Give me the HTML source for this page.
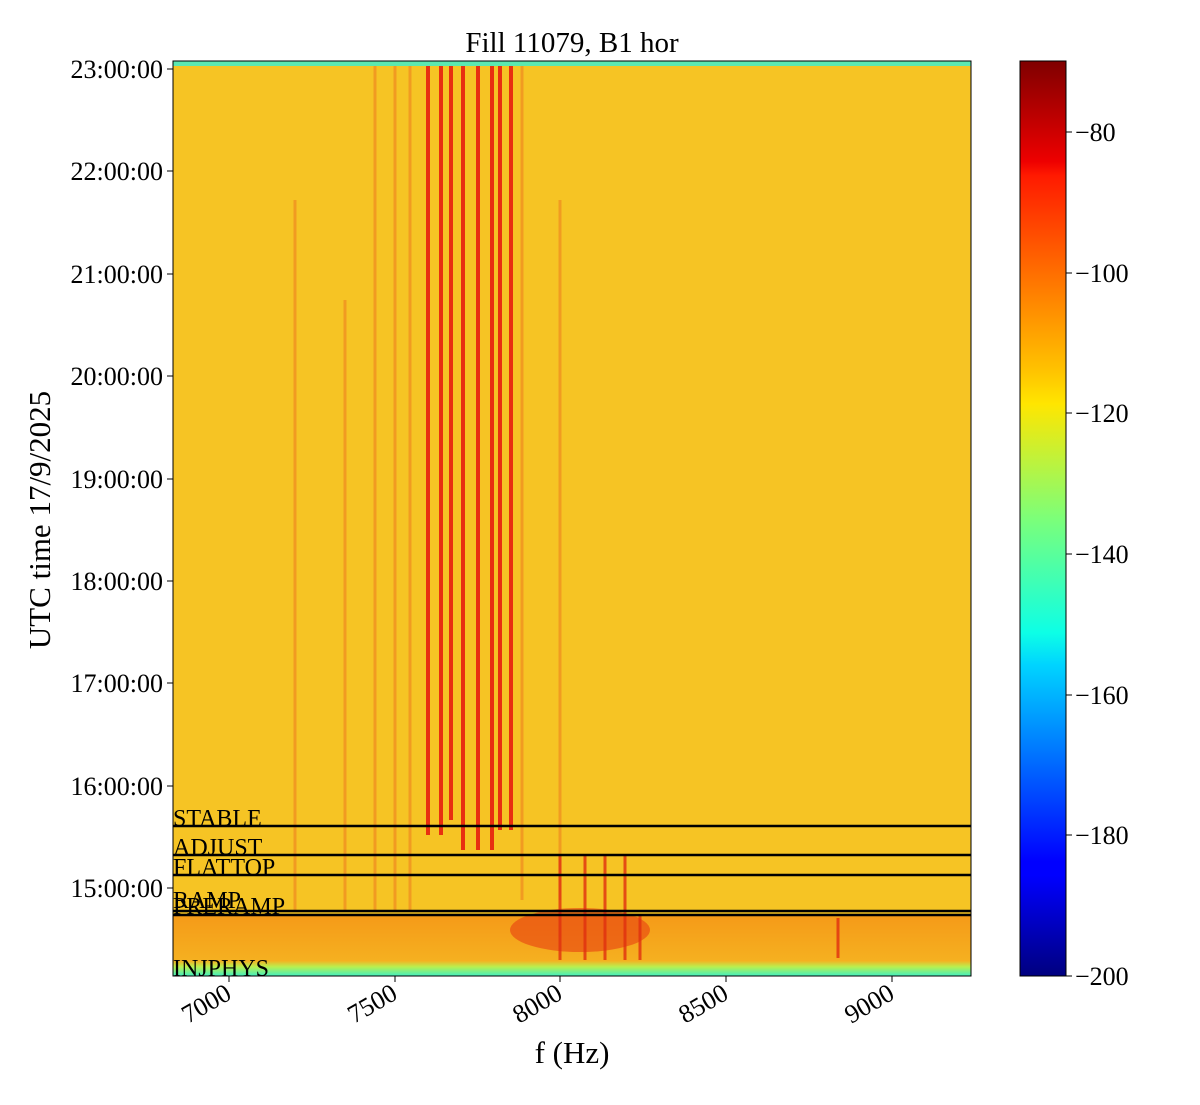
<!DOCTYPE html>
<html><head><meta charset="utf-8"><style>
body{margin:0;background:#fff;}
svg text{font-family:"Liberation Serif",serif;fill:#000;}
</style></head><body>
<svg width="1200" height="1100" xmlns="http://www.w3.org/2000/svg">
<defs>
<linearGradient id="jet" x1="0" y1="1" x2="0" y2="0">
<stop offset="0" stop-color="#00007f"/>
<stop offset="0.11" stop-color="#0000ff"/>
<stop offset="0.125" stop-color="#0000ff"/>
<stop offset="0.34" stop-color="#00d4ff"/>
<stop offset="0.375" stop-color="#0dffe6"/>
<stop offset="0.5" stop-color="#7cff79"/>
<stop offset="0.625" stop-color="#ffe600"/>
<stop offset="0.66" stop-color="#ffc400"/>
<stop offset="0.875" stop-color="#ff1a00"/>
<stop offset="0.89" stop-color="#ee0000"/>
<stop offset="1" stop-color="#7f0000"/>
</linearGradient>
<linearGradient id="bot" x1="0" y1="0" x2="0" y2="1">
<stop offset="0" stop-color="#f59a18"/>
<stop offset="0.75" stop-color="#f5b020"/>
<stop offset="0.85" stop-color="#b8f050"/>
<stop offset="1" stop-color="#40f0c0"/>
</linearGradient>
</defs>
<text x="572" y="52" font-size="29" text-anchor="middle">Fill 11079, B1 hor</text>
<rect x="173" y="61" width="798" height="915" fill="#f6c424"/>
<rect x="173" y="61" width="798" height="5" fill="#5ce8b0"/>
<g stroke="#f08a20" stroke-width="3" opacity="0.7">
<line x1="295" y1="200" x2="295" y2="910"/>
<line x1="375" y1="66" x2="375" y2="910"/>
<line x1="395" y1="66" x2="395" y2="910"/>
<line x1="410" y1="66" x2="410" y2="910"/>
<line x1="522" y1="66" x2="522" y2="900"/>
<line x1="560" y1="200" x2="560" y2="900"/>
<line x1="345" y1="300" x2="345" y2="910"/>
</g>
<g stroke="#e83010" stroke-width="4">
<line x1="428" y1="66" x2="428" y2="835"/>
<line x1="441" y1="66" x2="441" y2="835"/>
<line x1="451" y1="66" x2="451" y2="820"/>
<line x1="463" y1="66" x2="463" y2="850"/>
<line x1="478" y1="66" x2="478" y2="850"/>
<line x1="492" y1="66" x2="492" y2="850"/>
<line x1="500" y1="66" x2="500" y2="830"/>
<line x1="511" y1="66" x2="511" y2="830"/>
</g>
<rect x="173" y="915" width="798" height="61" fill="url(#bot)"/>
<ellipse cx="580" cy="930" rx="70" ry="22" fill="#e84010" opacity="0.6"/>
<g stroke="#e03010" stroke-width="3" opacity="0.8">
<line x1="560" y1="855" x2="560" y2="960"/><line x1="585" y1="855" x2="585" y2="960"/>
<line x1="605" y1="855" x2="605" y2="960"/><line x1="640" y1="915" x2="640" y2="960"/>
<line x1="625" y1="855" x2="625" y2="960"/><line x1="838" y1="918" x2="838" y2="958"/>
</g>
<g stroke="#000" stroke-width="2.5">
<line x1="173" y1="826" x2="971" y2="826"/>
<line x1="173" y1="855" x2="971" y2="855"/>
<line x1="173" y1="875" x2="971" y2="875"/>
<line x1="173" y1="911" x2="971" y2="911"/>
<line x1="173" y1="915" x2="971" y2="915"/>
</g>
<g font-size="24">
<text x="173" y="826">STABLE</text>
<text x="173" y="855">ADJUST</text>
<text x="173" y="875">FLATTOP</text>
<text x="173" y="908">RAMP</text>
<text x="173" y="914">PRERAMP</text>
<text x="173" y="976">INJPHYS</text>
</g>
<rect x="173" y="61" width="798" height="915" fill="none" stroke="#000" stroke-width="1"/>
<g stroke="#000" stroke-width="1">
<line x1="167" y1="69" x2="173" y2="69"/><line x1="167" y1="171" x2="173" y2="171"/>
<line x1="167" y1="274" x2="173" y2="274"/><line x1="167" y1="376" x2="173" y2="376"/>
<line x1="167" y1="479" x2="173" y2="479"/><line x1="167" y1="581" x2="173" y2="581"/>
<line x1="167" y1="683" x2="173" y2="683"/><line x1="167" y1="786" x2="173" y2="786"/>
<line x1="167" y1="888" x2="173" y2="888"/>
<line x1="229" y1="976" x2="229" y2="982"/><line x1="395" y1="976" x2="395" y2="982"/>
<line x1="560" y1="976" x2="560" y2="982"/><line x1="726" y1="976" x2="726" y2="982"/>
<line x1="892" y1="976" x2="892" y2="982"/>
</g>
<g font-size="26" text-anchor="end">
<text x="163" y="78">23:00:00</text><text x="163" y="180">22:00:00</text>
<text x="163" y="283">21:00:00</text><text x="163" y="385">20:00:00</text>
<text x="163" y="488">19:00:00</text><text x="163" y="590">18:00:00</text>
<text x="163" y="692">17:00:00</text><text x="163" y="795">16:00:00</text>
<text x="163" y="897">15:00:00</text>
</g>
<g font-size="26" text-anchor="end">
<text transform="translate(233,998) rotate(-30)">7000</text>
<text transform="translate(399,998) rotate(-30)">7500</text>
<text transform="translate(564,998) rotate(-30)">8000</text>
<text transform="translate(730,998) rotate(-30)">8500</text>
<text transform="translate(896,998) rotate(-30)">9000</text>
</g>
<text x="572" y="1063" font-size="31" text-anchor="middle">f (Hz)</text>
<text transform="translate(50,520) rotate(-90)" font-size="31" text-anchor="middle">UTC time 17/9/2025</text>
<rect x="1020" y="61" width="46" height="915" fill="url(#jet)" stroke="#000" stroke-width="1"/>
<g stroke="#000"><line x1="1066" y1="132" x2="1072" y2="132"/><line x1="1066" y1="273" x2="1072" y2="273"/>
<line x1="1066" y1="413" x2="1072" y2="413"/><line x1="1066" y1="554" x2="1072" y2="554"/>
<line x1="1066" y1="695" x2="1072" y2="695"/><line x1="1066" y1="835" x2="1072" y2="835"/>
<line x1="1066" y1="976" x2="1072" y2="976"/></g>
<g font-size="26">
<text x="1075" y="141">−80</text><text x="1075" y="282">−100</text>
<text x="1075" y="422">−120</text><text x="1075" y="563">−140</text>
<text x="1075" y="704">−160</text><text x="1075" y="844">−180</text>
<text x="1075" y="985">−200</text>
</g>
</svg>
</body></html>
